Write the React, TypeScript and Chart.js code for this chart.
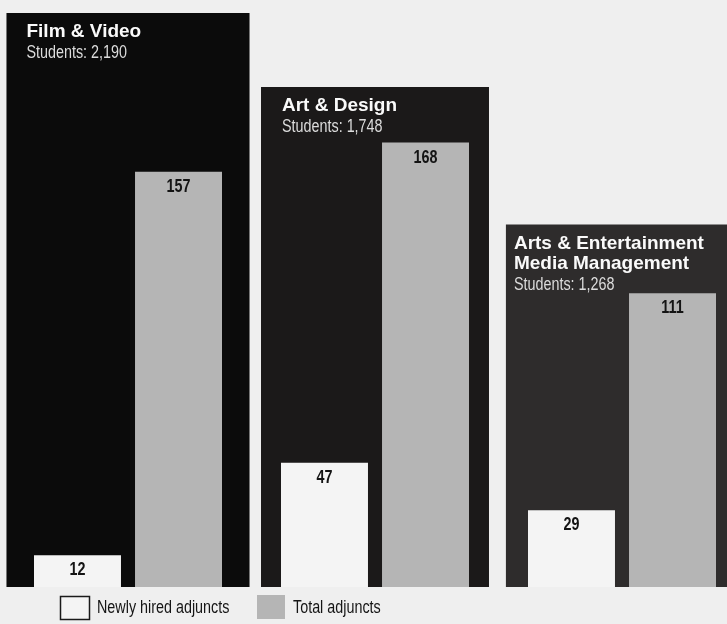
import React, { useEffect, useRef } from "react";
import { Chart, registerables } from "chart.js";

Chart.register(...registerables);

// ---- data ----
const categories = ["Film & Video", "Art & Design", "Arts & Entertainment Media Management"];
const titleLines = [["Film & Video"], ["Art & Design"], ["Arts & Entertainment", "Media Management"]];
const students = [2190, 1748, 1268];
const newlyHired = [12, 47, 29];
const totalAdjuncts = [157, 168, 111];
// height of each dark department panel (in the same units as the adjunct bars)
const panelHeights = [217, 189, 137];
const legendLabels = ["Newly hired adjuncts", "Total adjuncts"];

// ---- styles ----
const PAGE_BG = "#efefef";
const PANEL_COLORS = ["#0b0b0b", "#1b1919", "#2e2c2c"];
const PANEL_WIDTH_RATIO = [0.984, 0.923, 0.94];
const WHITE_BAR = "#f4f4f4";
const GRAY_BAR = "#b5b5b5";
const NARROW = 0.82;
const TITLE_INSET = [20, 21, 8];

function fmt(n: number) {
  return String(n).replace(/\B(?=(\d{3})+(?!\d))/g, ",");
}

function drawNarrow(
  ctx: CanvasRenderingContext2D,
  text: string,
  x: number,
  y: number,
  font: string,
  color: string,
  align: CanvasTextAlign = "left"
) {
  ctx.save();
  ctx.translate(x, y);
  ctx.scale(NARROW, 1);
  ctx.font = font;
  ctx.fillStyle = color;
  ctx.textAlign = align;
  ctx.textBaseline = "alphabetic";
  ctx.fillText(text, 0, 0);
  ctx.restore();
}

const decorPlugin = {
  id: "decor",
  beforeDraw(chart: any) {
    const { ctx, width, height } = chart;
    ctx.save();
    ctx.fillStyle = PAGE_BG;
    ctx.fillRect(0, 0, width, height);
    ctx.restore();
  },
  afterDatasetsDraw(chart: any) {
    const ctx: CanvasRenderingContext2D = chart.ctx;
    // panel titles
    categories.forEach((_, i) => {
      const bar: any = chart.getDatasetMeta(2 + i).data[i];
      if (!bar) return;
      const left = bar.x - bar.width / 2;
      const top = bar.y;
      const tx = Math.max(left, 0) + TITLE_INSET[i];
      ctx.save();
      ctx.fillStyle = "#fafafa";
      ctx.font = 'bold 19px "Liberation Sans", Arial, sans-serif';
      ctx.textAlign = "left";
      ctx.textBaseline = "alphabetic";
      let y = top + 24;
      titleLines[i].forEach((line, k) => {
        if (k > 0) y += 20;
        ctx.fillText(line, tx, y);
      });
      ctx.restore();
      y += 21;
      drawNarrow(ctx, `Students: ${fmt(students[i])}`, tx, y, '17.5px "Liberation Sans", Arial, sans-serif', "#dcdcdc");
    });
    // value labels
    [0, 1].forEach((di) => {
      const meta = chart.getDatasetMeta(di);
      const values = chart.data.datasets[di].data as number[];
      meta.data.forEach((bar: any, i: number) => {
        drawNarrow(
          ctx,
          String(values[i]),
          bar.x,
          bar.y + 20,
          'bold 17.5px "Liberation Sans", Arial, sans-serif',
          "#141414",
          "center"
        );
      });
    });
    // legend
    ctx.save();
    ctx.fillStyle = WHITE_BAR;
    ctx.fillRect(60, 596, 30, 24);
    ctx.strokeStyle = "#1a1a1a";
    ctx.lineWidth = 1.5;
    ctx.strokeRect(60.5, 596.5, 29, 23);
    ctx.fillStyle = GRAY_BAR;
    ctx.fillRect(257, 595, 28, 24);
    ctx.restore();
    drawNarrow(ctx, legendLabels[0], 97, 613, '17.5px "Liberation Sans", Arial, sans-serif', "#151515");
    drawNarrow(ctx, legendLabels[1], 293, 613, '17.5px "Liberation Sans", Arial, sans-serif', "#151515");
  },
};

export default function App() {
  const canvasRef = useRef<HTMLCanvasElement | null>(null);

  useEffect(() => {
    const canvas = canvasRef.current;
    if (!canvas) return;
    const panelDatasets = categories.map((name, i) => ({
      label: `${name} students`,
      data: panelHeights.map((h, j) => (j === i ? h : null)),
      backgroundColor: PANEL_COLORS[i],
      borderWidth: 0,
      grouped: false,
      categoryPercentage: 1,
      barPercentage: PANEL_WIDTH_RATIO[i],
      order: 1,
      clip: false as any,
    }));
    const chart = new Chart(canvas, {
      type: "bar",
      data: {
        labels: categories,
        datasets: [
          {
            label: legendLabels[0],
            data: newlyHired,
            backgroundColor: WHITE_BAR,
            borderWidth: 0,
            categoryPercentage: 0.818,
            barPercentage: 0.861,
            order: 0,
            clip: false as any,
          },
          {
            label: legendLabels[1],
            data: totalAdjuncts,
            backgroundColor: GRAY_BAR,
            borderWidth: 0,
            categoryPercentage: 0.818,
            barPercentage: 0.861,
            order: 0,
            clip: false as any,
          },
          ...panelDatasets,
        ] as any,
      },
      options: {
        animation: false,
        responsive: false,
        events: [],
        layout: { padding: { left: 128, right: 105, top: 5, bottom: 37 } },
        plugins: {
          legend: { display: false },
          tooltip: { enabled: false },
          title: { display: false },
        },
        scales: {
          x: { type: "category", offset: false, display: false },
          y: { min: 0, max: 220, display: false },
        },
      },
      plugins: [decorPlugin],
    });
    return () => chart.destroy();
  }, []);

  return (
    <div style={{ position: "absolute", left: 0, top: 0, width: 727, height: 624, background: PAGE_BG }}>
      <canvas ref={canvasRef} width={727} height={624} style={{ display: "block" }} />
    </div>
  );
}
